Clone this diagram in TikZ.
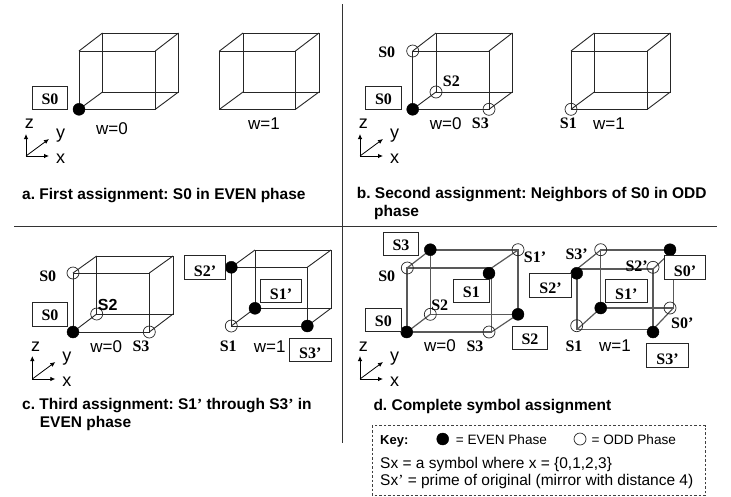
\documentclass[tikz,border=0pt]{standalone}
\usepackage{fontspec}
\setmainfont{Liberation Sans}
\newfontfamily\tnr{Liberation Serif}
\usetikzlibrary{arrows.meta}
\frenchspacing
\tikzset{
  edge/.style={draw=black!85,line width=0.9pt},
  edgeg/.style={edge/.style={draw=black!65,line width=1.2pt}},
  evendot/.style={circle,fill=black,draw=black,line width=0.4pt,minimum size=12pt,inner sep=0pt},
  odddot/.style={circle,draw=black!85,line width=0.7pt,minimum size=12pt,inner sep=0pt},
  sym/.style={font=\tnr\bfseries\fontsize{16}{16}\selectfont,inner sep=0pt},
  sans/.style={font=\fontsize{17}{18}\selectfont,inner sep=0pt},
  axlab/.style={font=\fontsize{18}{19}\selectfont,inner sep=0pt},
  sboldlab/.style={font=\bfseries\fontsize{16}{16}\selectfont,inner sep=0pt},
  capt/.style={font=\bfseries\fontsize{15.5}{16}\selectfont,inner sep=0pt,anchor=base west},
  keytxt/.style={font=\fontsize{15.5}{16}\selectfont,inner sep=0pt,anchor=base west},
  symbox/.style={sym,draw=black!85,fill=white,line width=0.8pt,minimum width=35.4pt,minimum height=23.5pt,text height=12.4pt,text depth=0pt},
  pbox/.style={sym,draw=black!85,fill=white,line width=0.8pt,minimum width=41.4pt,minimum height=23.5pt,text height=17pt,text depth=0pt},
  axis/.style={draw=black,line width=0.8pt,-{Latex[length=5pt,width=4.5pt]}},
  rule/.style={draw=black!80,line width=1pt},
  keyframe/.style={draw=black!75,line width=0.8pt,dashed,dash pattern=on 2.5pt off 2pt}
}
% name; front: left x, top y, right x, bottom y; back: same
\newcommand{\cubeframe}[9]{%
  \coordinate (#1-flt) at (#2,#3);
  \coordinate (#1-frt) at (#4,#3);
  \coordinate (#1-frb) at (#4,#5);
  \coordinate (#1-flb) at (#2,#5);
  \coordinate (#1-blt) at (#6,#7);
  \coordinate (#1-brt) at (#8,#7);
  \coordinate (#1-brb) at (#8,#9);
  \coordinate (#1-blb) at (#6,#9);
  \draw[edge] (#1-flt) -- (#1-frt) -- (#1-frb) -- (#1-flb) -- cycle;
  \draw[edge] (#1-blt) -- (#1-brt) -- (#1-brb) -- (#1-blb) -- cycle;
  \draw[edge] (#1-flt) -- (#1-blt) (#1-frt) -- (#1-brt) (#1-frb) -- (#1-brb) (#1-flb) -- (#1-blb);
}
% name; origin x,y; tip offset
\newcommand{\axes}[5]{%
  \coordinate (#1-o) at (#2,#3);
  \coordinate (#1-z) at (#2,#3-#4);
  \coordinate (#1-y) at (#2+#5,#3-17);
  \coordinate (#1-x) at (#2+#5,#3);
  \draw[axis] (#1-o) -- (#1-z);
  \draw[axis] (#1-o) -- (#1-y);
  \draw[axis] (#1-o) -- (#1-x);
  \node[axlab] (#1-zl) at (#2+3.3,#3-32) {z};
  \node[axlab] (#1-yl) at (#2+34.5,#3-20) {y};
  \node[axlab] (#1-xl) at (#2+34.5,#3+2.5) {x};
}
\begin{document}
\begin{tikzpicture}[x=1pt,y=-1pt]
\useasboundingbox (0,0) rectangle (731,496);
\fill[white] (0,0) rectangle (731,496);
% dividers
\coordinate (vt) at (342.3,4); \coordinate (vb) at (342.3,443);
\coordinate (hl) at (14,226.3); \coordinate (hr) at (717.3,226.3);
\draw[rule] (vt) -- (vb);
\draw[rule] (hl) -- (hr);

%% panel a
\cubeframe{a1}{79}{51}{155.3}{109.3}{102.5}{33}{178.5}{92}
\cubeframe{a2}{219.5}{51}{295.5}{109.3}{243}{33}{319}{92}
\node[evendot] (a-d0) at (a1-flb) {};
\node[symbox] (a-b0) at (50,97.8) {S0};
\node[sans] (a-w0) at (112,129) {w=0};
\node[sans] (a-w1) at (264,124) {w=1};
\axes{a}{26}{156}{22}{23}
\node[capt] (a-cap) at (22,199) {a. First assignment: S0 in EVEN phase};

%% panel b
\cubeframe{b1}{412.7}{51}{489}{109.3}{436}{33}{512.3}{92}
\cubeframe{b2}{571}{51}{647.3}{109.3}{594.3}{33}{670.3}{92}
\node[evendot] (b-d0) at (b1-flb) {};
\node[odddot] (b-d1) at (b1-flt) {};
\node[odddot] (b-d2) at (b1-blb) {};
\node[odddot] (b-d3) at (b1-frb) {};
\node[odddot] (b-d4) at (b2-flb) {};
\node[symbox] (b-b0) at (383.5,97.8) {S0};
\node[sym] (b-s0) at (386.7,52.7) {S0};
\node[sym] (b-s2) at (451.3,81.7) {S2};
\node[sym] (b-s3) at (480.3,123) {S3};
\node[sym] (b-s1) at (568.3,123) {S1};
\node[sans] (b-w0) at (445.7,124) {w=0};
\node[sans] (b-w1) at (609,124) {w=1};
\axes{b}{360}{156}{22}{23}
\node[capt] (b-cap) at (356.7,198.5) {b. Second assignment: Neighbors of S0 in ODD};
\node[capt] (b-cap2) at (374,216) {phase};

%% panel c
\cubeframe{c1}{73}{273}{149.3}{332}{96.7}{256}{173}{314}
\cubeframe{c2}{231.3}{267.3}{307.3}{326}{255}{250}{331}{308.3}
\node[evendot] (c-d0) at (c1-flb) {};
\node[odddot] (c-d1) at (c1-flt) {};
\node[odddot] (c-d2) at (c1-blb) {};
\node[odddot] (c-d3) at (c1-frb) {};
\node[odddot] (c-d4) at (c2-flb) {};
\node[evendot] (c-d5) at (c2-flt) {};
\node[evendot] (c-d6) at (c2-blb) {};
\node[evendot] (c-d7) at (c2-frb) {};
\node[symbox] (c-b0) at (50,314.5) {S0};
\node[pbox] (c-b2) at (205,267.5) {S2’};
\node[pbox] (c-b1) at (281,291) {S1’};
\node[pbox] (c-b3) at (310.3,349.7) {S3’};
\node[sym] (c-s0) at (47.7,276) {S0};
\node[sboldlab] (c-s2) at (107.7,305) {S2};
\node[sym] (c-s3) at (141,346.3) {S3};
\node[sym] (c-s1) at (228.3,346.3) {S1};
\node[sans] (c-w0) at (106.3,346.3) {w=0};
\node[sans] (c-w1) at (269.7,346.3) {w=1};
\axes{c}{32.3}{379}{23}{23}
\node[capt] (c-cap) at (22,409) {c. Third assignment: S1{\tnr’} through S3{\tnr’} in};
\node[capt] (c-cap2) at (39.7,427) {EVEN phase};

%% panel d
\begin{scope}[edgeg]
\cubeframe{d1}{407}{268}{491.5}{332}{430.3}{250}{518}{314.3}
\cubeframe{d2}{577}{269}{653}{329.5}{600.7}{250}{673.3}{308}
\end{scope}
\node[evendot] (d-d0) at (406.7,332) {};
\node[odddot] (d-d1) at (407.3,268) {};
\node[evendot] (d-d2) at (489,273.3) {};
\node[odddot] (d-d3) at (489,332) {};
\node[evendot] (d-d4) at (430.3,249.7) {};
\node[odddot] (d-d5) at (518,249.7) {};
\node[evendot] (d-d6) at (518,314.3) {};
\node[odddot] (d-d7) at (430.3,314.3) {};
\node[odddot] (d-d8) at (576.7,325.7) {};
\node[evendot] (d-d9) at (576.7,273.3) {};
\node[evendot] (d-d10) at (653,332) {};
\node[odddot] (d-d11) at (653,267.3) {};
\node[odddot] (d-d12) at (600.7,249.7) {};
\node[evendot] (d-d13) at (670,249.7) {};
\node[odddot] (d-d14) at (670,308) {};
\node[evendot] (d-d15) at (600.7,308) {};
\node[symbox] (d-b0) at (383.3,320) {S0};
\node[symbox] (d-b3) at (401,244) {S3};
\node[symbox] (d-b1) at (471.3,291) {S1};
\node[symbox] (d-b2) at (530,337.8) {S2};
\node[pbox] (d-p2) at (550.5,285.3) {S2’};
\node[pbox] (d-p1) at (626.3,291) {S1’};
\node[pbox] (d-p3) at (667.5,355.5) {S3’};
\node[pbox] (d-p0) at (685,267.5) {S0’};
\node[sym] (d-s0) at (386.7,276) {S0};
\node[sym] (d-s2) at (439.7,305) {S2};
\node[sym] (d-s3) at (475,346) {S3};
\node[sym] (d-s1p) at (535,257.7) {S1’};
\node[sym] (d-s3p) at (576.7,254) {S3’};
\node[sym] (d-s2p) at (636.7,266) {S2’};
\node[sym] (d-s0p) at (682.3,323.3) {S0’};
\node[sym] (d-s1) at (574,346) {S1};
\node[sans] (d-w0) at (440,346) {w=0};
\node[sans] (d-w1) at (615,346) {w=1};
\axes{d}{360}{379}{23}{23}
\node[capt] (d-cap) at (373.3,410) {d. Complete symbol assignment};

%% key
\draw[keyframe] (372.3,425.7) rectangle (705.7,495.3);
\node[capt,font=\bfseries\fontsize{13}{14}\selectfont] (k-key) at (380,444) {Key:};
\node[evendot] (k-even) at (442.7,439) {};
\node[keytxt,font=\fontsize{13.6}{15}\selectfont] (k-e) at (455.7,444) {= EVEN Phase};
\node[odddot] (k-odd) at (580,439) {};
\node[keytxt,font=\fontsize{13.6}{15}\selectfont] (k-o) at (591.5,444) {= ODD Phase};
\node[keytxt] (k-l1) at (380,468) {Sx = a symbol where x = \{0,1,2,3\}};
\node[keytxt] (k-l2) at (380,485) {Sx{\tnr’} = prime of original (mirror with distance 4)};
\end{tikzpicture}
\end{document}
